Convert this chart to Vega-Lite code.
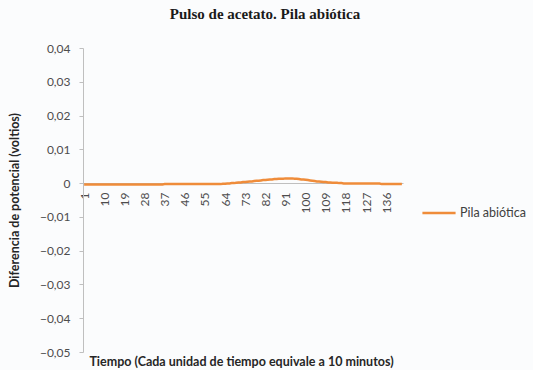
{
  "$schema": "https://vega.github.io/schema/vega-lite/v6.json",
  "width": 320,
  "height": 304,
  "autosize": {"type": "none"},
  "padding": {"left": 83, "top": 48, "right": 130, "bottom": 18},
  "background": "#fbfcfd",
  "title": {
    "text": "Pulso de acetato. Pila abiótica",
    "font": "Liberation Serif",
    "fontSize": 15,
    "fontWeight": "bold",
    "color": "#1a1a1a",
    "anchor": "middle",
    "dx": 22,
    "offset": 20
  },
  "config": {
    "view": {"stroke": null},
    "axis": {"grid": false, "domainColor": "#bfbfbf", "tickColor": "#bfbfbf", "labelFont": "Lato", "labelColor": "#4d4d4d", "titleFont": "Lato", "titleColor": "#262626", "titleFontWeight": "bold"}
  },
  "data": {
    "values": [
      {"t": 1, "v": -0.0004}, {"t": 2, "v": -0.0004}, {"t": 3, "v": -0.0004}, {"t": 4, "v": -0.0004}, {"t": 5, "v": -0.0004},
      {"t": 6, "v": -0.0004}, {"t": 7, "v": -0.0004}, {"t": 8, "v": -0.0004}, {"t": 9, "v": -0.0004}, {"t": 10, "v": -0.0004},
      {"t": 11, "v": -0.0004}, {"t": 12, "v": -0.0004}, {"t": 13, "v": -0.0004}, {"t": 14, "v": -0.0004}, {"t": 15, "v": -0.0004},
      {"t": 16, "v": -0.0004}, {"t": 17, "v": -0.0004}, {"t": 18, "v": -0.0004}, {"t": 19, "v": -0.0004}, {"t": 20, "v": -0.0004},
      {"t": 21, "v": -0.0004}, {"t": 22, "v": -0.0004}, {"t": 23, "v": -0.0004}, {"t": 24, "v": -0.0004}, {"t": 25, "v": -0.0004},
      {"t": 26, "v": -0.0004}, {"t": 27, "v": -0.0004}, {"t": 28, "v": -0.0004}, {"t": 29, "v": -0.0004}, {"t": 30, "v": -0.0004},
      {"t": 31, "v": -0.0004}, {"t": 32, "v": -0.0004}, {"t": 33, "v": -0.0004}, {"t": 34, "v": -0.0004}, {"t": 35, "v": -0.0004},
      {"t": 36, "v": -0.0004}, {"t": 37, "v": -0.0003}, {"t": 38, "v": -0.0003}, {"t": 39, "v": -0.0003}, {"t": 40, "v": -0.0003},
      {"t": 41, "v": -0.0003}, {"t": 42, "v": -0.0003}, {"t": 43, "v": -0.0003}, {"t": 44, "v": -0.0003}, {"t": 45, "v": -0.0003},
      {"t": 46, "v": -0.0003}, {"t": 47, "v": -0.0003}, {"t": 48, "v": -0.0003}, {"t": 49, "v": -0.0003}, {"t": 50, "v": -0.0003},
      {"t": 51, "v": -0.0003}, {"t": 52, "v": -0.0003}, {"t": 53, "v": -0.0003}, {"t": 54, "v": -0.0003}, {"t": 55, "v": -0.0003},
      {"t": 56, "v": -0.0003}, {"t": 57, "v": -0.0003}, {"t": 58, "v": -0.0003}, {"t": 59, "v": -0.0003}, {"t": 60, "v": -0.0003},
      {"t": 61, "v": -0.0003}, {"t": 62, "v": -0.0003}, {"t": 63, "v": -0.0002}, {"t": 64, "v": -0.0002}, {"t": 65, "v": -0.0001},
      {"t": 66, "v": -0.0001}, {"t": 67, "v": 0}, {"t": 68, "v": 0}, {"t": 69, "v": 0.0001}, {"t": 70, "v": 0.0002},
      {"t": 71, "v": 0.0002}, {"t": 72, "v": 0.0003}, {"t": 73, "v": 0.0003}, {"t": 74, "v": 0.0004}, {"t": 75, "v": 0.0005},
      {"t": 76, "v": 0.0005}, {"t": 77, "v": 0.0006}, {"t": 78, "v": 0.0007}, {"t": 79, "v": 0.0007}, {"t": 80, "v": 0.0008},
      {"t": 81, "v": 0.0009}, {"t": 82, "v": 0.0009}, {"t": 83, "v": 0.001}, {"t": 84, "v": 0.0011}, {"t": 85, "v": 0.0011},
      {"t": 86, "v": 0.0012}, {"t": 87, "v": 0.0012}, {"t": 88, "v": 0.0013}, {"t": 89, "v": 0.0013}, {"t": 90, "v": 0.0013},
      {"t": 91, "v": 0.0014}, {"t": 92, "v": 0.0014}, {"t": 93, "v": 0.0014}, {"t": 94, "v": 0.0014}, {"t": 95, "v": 0.0013},
      {"t": 96, "v": 0.0013}, {"t": 97, "v": 0.0012}, {"t": 98, "v": 0.0011}, {"t": 99, "v": 0.0011}, {"t": 100, "v": 0.001},
      {"t": 101, "v": 0.0009}, {"t": 102, "v": 0.0008}, {"t": 103, "v": 0.0007}, {"t": 104, "v": 0.0006}, {"t": 105, "v": 0.0005},
      {"t": 106, "v": 0.0005}, {"t": 107, "v": 0.0004}, {"t": 108, "v": 0.0003}, {"t": 109, "v": 0.0003}, {"t": 110, "v": 0.0002},
      {"t": 111, "v": 0.0002}, {"t": 112, "v": 0.0001}, {"t": 113, "v": 0.0001}, {"t": 114, "v": 0.0001}, {"t": 115, "v": 0},
      {"t": 116, "v": 0}, {"t": 117, "v": -0.0001}, {"t": 118, "v": -0.0001}, {"t": 119, "v": -0.0001}, {"t": 120, "v": -0.0001},
      {"t": 121, "v": -0.0001}, {"t": 122, "v": -0.0001}, {"t": 123, "v": -0.0001}, {"t": 124, "v": -0.0001}, {"t": 125, "v": -0.0001},
      {"t": 126, "v": -0.0001}, {"t": 127, "v": -0.0001}, {"t": 128, "v": -0.0001}, {"t": 129, "v": -0.0001}, {"t": 130, "v": -0.0001},
      {"t": 131, "v": -0.0001}, {"t": 132, "v": -0.0001}, {"t": 133, "v": -0.0001}, {"t": 134, "v": -0.0003}, {"t": 135, "v": -0.0003},
      {"t": 136, "v": -0.0003}, {"t": 137, "v": -0.0003}, {"t": 138, "v": -0.0003}, {"t": 139, "v": -0.0003}, {"t": 140, "v": -0.0003},
      {"t": 141, "v": -0.0003}, {"t": 142, "v": -0.0003}, {"t": 143, "v": -0.0003}
    ]
  },
  "mark": {"type": "line", "strokeWidth": 2.5},
  "encoding": {
    "x": {
      "field": "t",
      "type": "quantitative",
      "scale": {"domain": [0.5, 143.5], "nice": false, "zero": false},
      "axis": {
        "title": "Tiempo (Cada unidad de tiempo equivale a 10 minutos)",
        "titleFontSize": 12.5,
        "titleY": 182,
        "titleBaseline": "alphabetic",
        "titleX": 158,
        "values": [1, 10, 19, 28, 37, 46, 55, 64, 73, 82, 91, 100, 109, 118, 127, 136],
        "labelAngle": -90,
        "labelFontSize": 12,
        "labelPadding": 9,
        "ticks": false,
        "offset": -169,
        "labelOverlap": false
      }
    },
    "y": {
      "field": "v",
      "type": "quantitative",
      "scale": {"domain": [-0.05, 0.04], "nice": false, "zero": false},
      "axis": {
        "title": "Diferencia de potencial (voltios)",
        "titleFontSize": 12.5,
        "titlePadding": 18,
        "values": [-0.05, -0.04, -0.03, -0.02, -0.01, 0, 0.01, 0.02, 0.03, 0.04],
        "labelExpr": "datum.value == 0 ? '0' : replace(format(datum.value, '.2f'), '.', ',')",
        "labelFontSize": 12,
        "labelPadding": 9,
        "tickSize": 4
      }
    },
    "color": {
      "datum": "Pila abiótica",
      "scale": {"range": ["#ef8c3a"]},
      "legend": {
        "title": null,
        "orient": "none",
        "legendX": 338,
        "legendY": 147,
        "symbolType": "stroke",
        "symbolSize": 1100,
        "symbolStrokeWidth": 2.5,
        "labelFont": "Lato",
        "labelFontSize": 12.5,
        "labelColor": "#404040",
        "labelOffset": 3
      }
    }
  }
}
